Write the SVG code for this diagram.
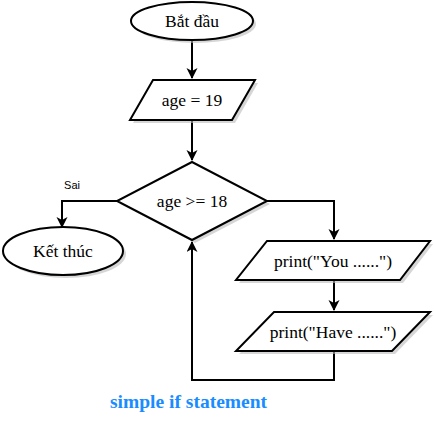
<svg xmlns="http://www.w3.org/2000/svg" width="434" height="426" viewBox="0 0 434 426">
<defs>
<marker id="arr" markerWidth="12" markerHeight="12" refX="10" refY="5.5" orient="auto" markerUnits="userSpaceOnUse">
<path d="M0,0 L11,5.5 L0,11 L3,5.5 Z" fill="#000"/>
</marker>
</defs>
<style>
.sh{fill:#bbb;opacity:0.6;stroke:none}
.nd{fill:#fff;stroke:#000;stroke-width:2}
.t{font-family:"Liberation Serif","Times New Roman",serif;font-size:17.5px;fill:#000;text-anchor:middle;dominant-baseline:central}
.e{fill:none;stroke:#000;stroke-width:2}
.lbl{font-family:"Liberation Sans",Arial,sans-serif;font-size:11px;fill:#000;text-anchor:middle}
.ttl{font-family:"Liberation Serif","Times New Roman",serif;font-size:19.5px;font-weight:bold;fill:#1a8cff}
</style>
<rect width="434" height="426" fill="#fff"/>
<g id="connectors">
<path class="e" d="M192,40 V78" marker-end="url(#arr)"/>
<path class="e" d="M192,120 V160" marker-end="url(#arr)"/>
<path class="e" d="M117,201 H62 V227" marker-end="url(#arr)"/>
<path class="e" d="M267,201 H334 V239" marker-end="url(#arr)"/>
<path class="e" d="M334,280 V310" marker-end="url(#arr)"/>
<path class="e" d="M334,351 V380 H192 V242" marker-end="url(#arr)"/>
<text class="lbl" x="72" y="189">Sai</text>
</g>
<g id="start">
<ellipse class="sh" cx="195" cy="24" rx="61" ry="19"/>
<ellipse class="nd" cx="192" cy="21" rx="61" ry="19"/>
<text class="t" x="192" y="21">Bắt đầu</text>
</g>
<g id="assign">
<polygon class="sh" points="156,83 258,83 235,123 133,123"/>
<polygon class="nd" points="153,80 255,80 232,120 130,120"/>
<text class="t" x="192" y="100">age = 19</text>
</g>
<g id="decision">
<polygon class="sh" points="195,165 270,204 195,243 120,204"/>
<polygon class="nd" points="192,162 267,201 192,240 117,201"/>
<text class="t" x="192" y="201">age &gt;= 18</text>
</g>
<g id="end">
<ellipse class="sh" cx="66" cy="254" rx="60" ry="24"/>
<ellipse class="nd" cx="63" cy="251" rx="60" ry="24"/>
<text class="t" x="63" y="251">Kết thúc</text>
</g>
<g id="print1">
<polygon class="sh" points="270,244 433,244 403,283 239,283"/>
<polygon class="nd" points="267,241 430,241 400,280 236,280"/>
<text class="t" x="333" y="261">print("You ......")</text>
</g>
<g id="print2">
<polygon class="sh" points="277,315 433,315 395,354 239,354"/>
<polygon class="nd" points="274,312 430,312 392,351 236,351"/>
<text class="t" x="333" y="332">print("Have ......")</text>
</g>
<text class="ttl" x="110" y="408">simple if statement</text>
</svg>
